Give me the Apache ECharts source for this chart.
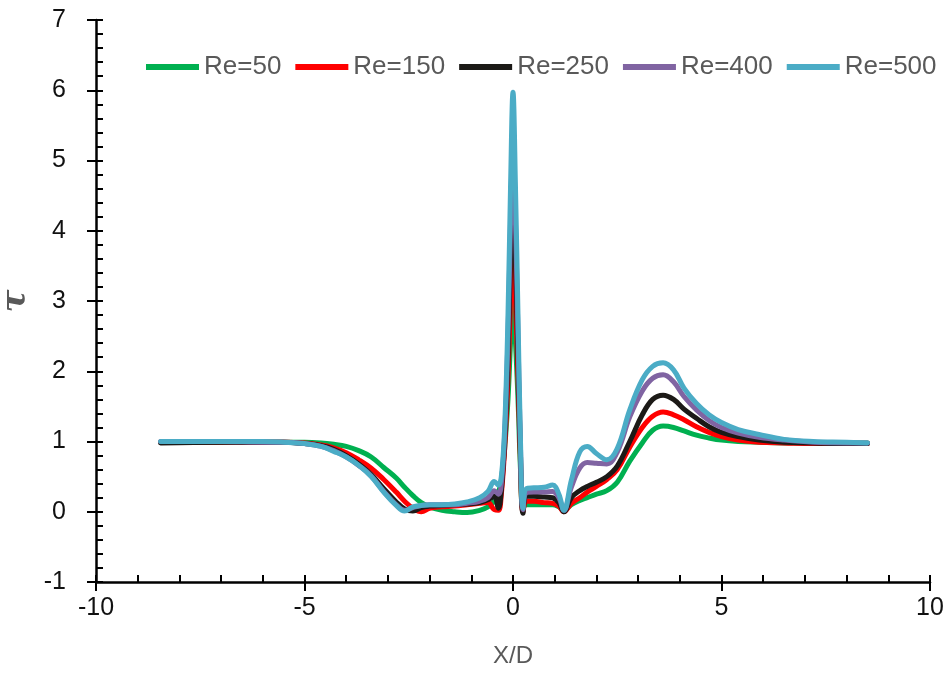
<!DOCTYPE html>
<html>
<head>
<meta charset="utf-8">
<script src="https://cdn.jsdelivr.net/npm/echarts@6/dist/echarts.min.js"></script>
<style>
html,body{margin:0;padding:0;background:#fff;}
#chart{width:951px;height:686px;}
</style>
</head>
<body>
<div id="chart"></div>
<script>
const xVals = [-8.45, -7, -6, -5.5, -5, -4.6, -4.3, -4.0, -3.7, -3.4,
  -3.1, -2.8, -2.6, -2.4, -2.2, -2.0, -1.7, -1.4, -1.1, -0.8,
  -0.6, -0.45, -0.35, -0.28, -0.2, -0.12, -0.06, 0, 0.06, 0.12,
  0.18, 0.24, 0.32, 0.5, 0.75, 0.95, 1.1, 1.22, 1.4, 1.6,
  1.78, 2.0, 2.25, 2.5, 2.8, 3.1, 3.35, 3.6, 3.85, 4.1,
  4.4, 4.7, 5.0, 5.4, 5.9, 6.5, 7.2, 8.0, 8.5];

const re50 = [0.99, 0.99, 0.99, 0.99, 0.99, 0.98, 0.96, 0.93, 0.87, 0.78,
  0.63, 0.48, 0.35, 0.23, 0.13, 0.07, 0.02, 0.0, -0.01, 0.02,
  0.07, 0.15, 0.27, 0.45, 0.9, 1.6, 2.4, 3.06, 2.4, 1.6,
  0.6, 0.05, 0.1, 0.1, 0.1, 0.1, 0.07, 0.02, 0.1, 0.16,
  0.2, 0.25, 0.3, 0.42, 0.72, 0.98, 1.16, 1.22, 1.2, 1.15,
  1.09, 1.05, 1.02, 1.0, 0.99, 0.98, 0.98, 0.98, 0.98];

const re150 = [0.99, 0.99, 0.99, 0.99, 0.98, 0.95, 0.91, 0.84, 0.74, 0.62,
  0.46, 0.28, 0.15, 0.05, 0.0, 0.05, 0.07, 0.08, 0.1, 0.12,
  0.13, 0.03, 0.02, 0.25, 0.9, 1.9, 3.0, 3.8, 3.0, 1.9,
  0.7, 0.0, 0.15, 0.15, 0.13, 0.12, 0.08, 0.0, 0.12, 0.2,
  0.28, 0.36, 0.46, 0.6, 0.92, 1.2, 1.36, 1.42, 1.38, 1.31,
  1.21, 1.13, 1.07, 1.02, 0.99, 0.98, 0.97, 0.97, 0.97];

const re250 = [0.98, 0.99, 0.99, 0.99, 0.97, 0.94, 0.89, 0.8, 0.68, 0.53,
  0.33, 0.14, 0.04, 0.01, 0.06, 0.08, 0.09, 0.1, 0.11, 0.13,
  0.17, 0.22, 0.05, 0.3, 1.0, 2.2, 3.6, 4.6, 3.6, 2.2,
  0.8, -0.02, 0.22, 0.22, 0.21, 0.2, 0.13, 0.0, 0.2, 0.3,
  0.36, 0.42, 0.5, 0.65, 1.0, 1.38, 1.6, 1.66, 1.6, 1.46,
  1.33, 1.21, 1.13, 1.07, 1.02, 0.99, 0.98, 0.97, 0.97];

const re400 = [1.0, 1.0, 0.99, 0.99, 0.97, 0.93, 0.87, 0.78, 0.66, 0.51,
  0.29, 0.1, 0.02, 0.06, 0.09, 0.1, 0.1, 0.1, 0.12, 0.15,
  0.2, 0.3, 0.25, 0.4, 1.1, 2.5, 4.1, 5.3, 4.1, 2.5,
  0.9, 0.03, 0.27, 0.28, 0.28, 0.29, 0.2, 0.02, 0.35, 0.62,
  0.7, 0.69, 0.68, 0.85, 1.35, 1.72, 1.9, 1.95, 1.85, 1.64,
  1.45, 1.3, 1.2, 1.12, 1.06, 1.02, 0.99, 0.98, 0.98];

const re500 = [1.0, 1.0, 1.0, 0.99, 0.97, 0.93, 0.86, 0.78, 0.66, 0.5,
  0.28, 0.09, 0.01, 0.07, 0.09, 0.1, 0.1, 0.11, 0.14, 0.2,
  0.29, 0.43, 0.38, 0.5, 1.2, 2.8, 4.6, 5.97, 4.6, 2.8,
  1.0, 0.05, 0.33, 0.34, 0.35, 0.38, 0.25, 0.02, 0.45, 0.85,
  0.93, 0.83, 0.74, 0.9, 1.45, 1.88, 2.07, 2.12, 2.02, 1.76,
  1.54, 1.38, 1.27, 1.17, 1.1, 1.03, 1.0, 0.99, 0.98];

const seriesNames = ['Re=50', 'Re=150', 'Re=250', 'Re=400', 'Re=500'];
const seriesColors = ['#00b050', '#ff0000', '#1c1a17', '#8064a2', '#4bacc6'];
const seriesValues = [re50, re150, re250, re400, re500];
const xAxisTitle = 'X/D';
const yAxisTitle = 'τ';

const chart = echarts.init(document.getElementById('chart'), null, {renderer: 'canvas'});
const tickFont = 'Liberation Sans';
const series = seriesNames.map((name, i) => ({
  name: name,
  type: 'line',
  xAxisIndex: 0,
  yAxisIndex: 0,
  data: xVals.map((x, j) => [x, seriesValues[i][j]]),
  showSymbol: false,
  symbol: 'none',
  smooth: 0.4,
  lineStyle: {color: seriesColors[i], width: 5, cap: 'round', join: 'round'},
  itemStyle: {color: seriesColors[i]},
  z: 2 + i,
  animation: false
}));

chart.setOption({
  animation: false,
  backgroundColor: '#ffffff',
  grid: {left: 96, right: 21, top: 20, bottom: 104, containLabel: false, outerBoundsMode: 'none'},
  legend: {
    data: seriesNames,
    left: 141,
    top: 49,
    icon: 'rect',
    itemWidth: 53,
    itemHeight: 6,
    itemGap: 14,
    textStyle: {color: '#595959', fontSize: 26, fontFamily: tickFont}
  },
  xAxis: [
    {
      type: 'value', min: -10, max: 10, interval: 5, position: 'bottom',
      name: xAxisTitle, nameLocation: 'middle', nameGap: 62,
      nameTextStyle: {color: '#595959', fontSize: 24, fontFamily: tickFont},
      axisLine: {show: true, onZero: false, lineStyle: {color: '#000', width: 2.5}},
      axisTick: {show: true, inside: false, length: 9, lineStyle: {color: '#000', width: 2}},
      axisLabel: {color: '#111', fontSize: 25, fontFamily: tickFont, margin: 14},
      splitLine: {show: false}
    },
    {
      type: 'value', min: -10, max: 10, interval: 1, position: 'bottom',
      axisLine: {show: false, onZero: false},
      axisTick: {show: true, inside: true, length: 7, lineStyle: {color: '#000', width: 2}},
      axisLabel: {show: false},
      splitLine: {show: false}
    }
  ],
  yAxis: [
    {
      type: 'value', min: -1, max: 7, interval: 1, position: 'left',
      name: yAxisTitle, nameLocation: 'middle', nameGap: 55, nameRotate: 90,
      nameTextStyle: {color: '#595959', fontSize: 34, fontWeight: 'bold', fontStyle: 'italic', fontFamily: 'DejaVu Serif'},
      axisLine: {show: true, onZero: false, lineStyle: {color: '#000', width: 2.5}},
      axisTick: {show: true, inside: false, length: 9, lineStyle: {color: '#000', width: 2}},
      axisLabel: {color: '#111', fontSize: 25, fontFamily: tickFont, margin: 30},
      splitLine: {show: false}
    },
    {
      type: 'value', min: -1, max: 7, interval: 0.2, position: 'left',
      axisLine: {show: false, onZero: false},
      axisTick: {show: true, inside: true, length: 7, lineStyle: {color: '#000', width: 2}},
      axisLabel: {show: false},
      splitLine: {show: false}
    }
  ],
  series: series
});
</script>
</body>
</html>
